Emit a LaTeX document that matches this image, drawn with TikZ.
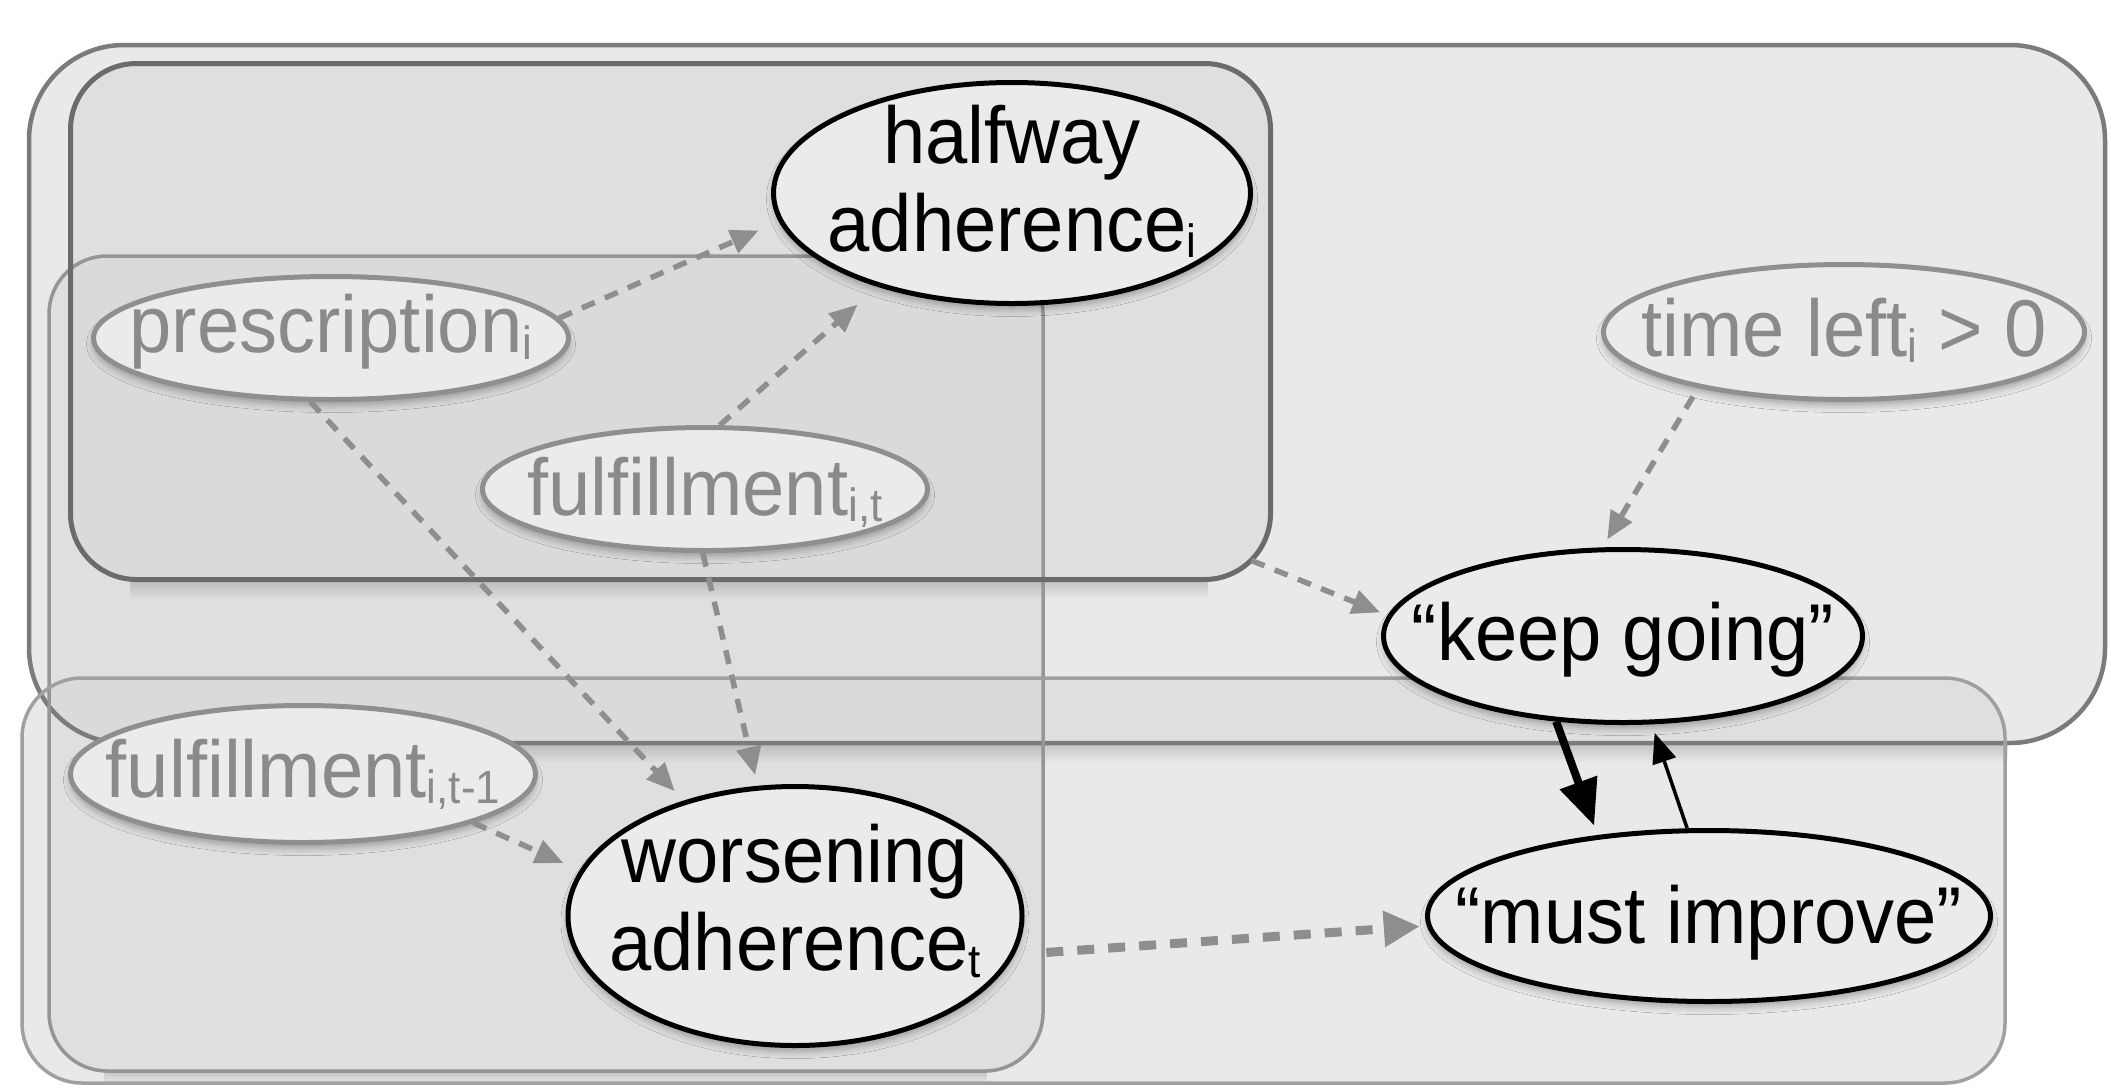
\documentclass[tikz,border=0pt]{standalone}
\usepackage{fontspec}
\setmainfont{Liberation Sans}
\usetikzlibrary{shapes.geometric,arrows.meta,shadows.blur,fadings}

\definecolor{platefill}{HTML}{D7D7D7}
\definecolor{nodefill}{HTML}{EBEBEB}
\definecolor{dimtext}{HTML}{8A8A8A}
\definecolor{dimline}{HTML}{8F8F8F}
\definecolor{arrowgray}{HTML}{8E8E8E}
\definecolor{lineA}{HTML}{7B7B7B}
\definecolor{lineB}{HTML}{6B6B6B}
\definecolor{lineC}{HTML}{959595}
\definecolor{lineD}{HTML}{A0A0A0}

\tikzfading[name=shadowfade, top color=transparent!0, bottom color=transparent!100]

% small lowered index after a variable name
\newcommand\sbs[1]{\raisebox{-6pt}{\fontsize{44pt}{44pt}\selectfont #1}}
% slightly tall lettering for the variable names
\newcommand\tall[1]{\scalebox{1}[1.06]{#1}}

\begin{document}
\begin{tikzpicture}[x=1pt,y=-1pt,
  plate/.style={rectangle, inner sep=0pt, outer sep=0pt, fill=platefill, fill opacity=0.55},
  varnode/.style={ellipse, line width=5pt, fill=nodefill, inner sep=0pt,
    blur shadow={shadow xshift=0pt, shadow yshift=-6pt, shadow blur radius=7pt, shadow opacity=30}},
  mainvar/.style={varnode, draw=black},
  sidevar/.style={varnode, draw=dimline},
  nodetext/.style={font=\fontsize{76pt}{88pt}\selectfont, align=center, inner sep=0pt},
  maintext/.style={nodetext, text=black},
  sidetext/.style={nodetext, text=dimtext},
  dep/.style={draw=arrowgray, line width=5.5pt, dash pattern=on 14pt off 11pt,
    -{Triangle[length=28pt,width=24pt]}},
  depthick/.style={draw=arrowgray, line width=9pt, dash pattern=on 17pt off 14pt,
    -{Triangle[length=36pt,width=34pt]}},
  strongarrow/.style={draw=black, line width=8pt, -{Triangle[length=46pt,width=38pt]}},
  weakarrow/.style={draw=black, line width=3.5pt, -{Triangle[length=30pt,width=24pt]}},
  platedge/.style={fill=black, opacity=0.16, path fading=shadowfade},
]
\fill[white] (0,0) rectangle (2111,1088);
\useasboundingbox (0,0) rectangle (2111,1088);

% translucent plates
\node[plate, rounded corners=95pt, minimum width=2076pt, minimum height=698pt] (A) at (1067,394) {};
\node[plate, rounded corners=66pt, minimum width=1200pt, minimum height=516pt] (B) at (670.5,321.5) {};
\node[plate, rounded corners=58pt, minimum width=994pt, minimum height=815pt] (C) at (546,663.5) {};
\node[plate, rounded corners=60pt, minimum width=1983pt, minimum height=405pt] (D) at (1013.5,880.5) {};

% soft shadows under the plate bottoms
\fill[platedge] ([xshift=90pt]A.south west) rectangle ([xshift=-90pt,yshift=-20pt]A.south east);
\fill[platedge] ([xshift=60pt]B.south west) rectangle ([xshift=-60pt,yshift=-20pt]B.south east);
\fill[platedge] ([xshift=55pt]C.south west) rectangle ([xshift=-55pt,yshift=-12pt]C.south east);

% plate outlines
\draw[lineA, line width=4.5pt, rounded corners=95pt] (A.north west) rectangle (A.south east);
\draw[lineC, line width=3.5pt, rounded corners=58pt] (C.north west) rectangle (C.south east);
\draw[lineD, line width=3.5pt, rounded corners=60pt] (D.north west) rectangle (D.south east);
\draw[lineB, line width=5pt, rounded corners=66pt] (B.north west) rectangle (B.south east);

% variables
\node[mainvar, minimum width=477pt, minimum height=221pt,
  label={[name=halftext, maintext, yshift=12pt]center:{\tall{halfway}\\\tall{adherence\sbs{i}}}}] (half) at (1012,193) {};
\node[sidevar, minimum width=475pt, minimum height=123pt,
  label={[name=pretext, sidetext, yshift=6pt]center:{\tall{prescription\sbs{i}}}}] (pre) at (331,338) {};
\node[sidevar, minimum width=445pt, minimum height=123pt,
  label={[name=fittext, sidetext, yshift=-3pt]center:{\tall{fulfillment\sbs{i,t}}}}] (fit) at (705,489) {};
\node[sidevar, minimum width=481pt, minimum height=135pt,
  label={[name=timetext, sidetext, yshift=2pt]center:{\tall{time left\sbs{i} > 0}}}] (time) at (1844,332) {};
\node[mainvar, minimum width=479pt, minimum height=173pt,
  label={[name=keeptext, maintext, yshift=-4pt]center:{\tall{“keep going”}}}] (keep) at (1623,636) {};
\node[sidevar, minimum width=465pt, minimum height=137pt,
  label={[name=ft1text, sidetext]center:{\tall{fulfillment\sbs{i,t-1}}}}] (ft1) at (303,774) {};
\node[mainvar, minimum width=454pt, minimum height=259pt,
  label={[name=worstext, maintext, yshift=15pt]center:{\tall{worsening}\\\tall{adherence\sbs{t}}}}] (wors) at (795,916) {};
\node[mainvar, minimum width=563pt, minimum height=171pt,
  label={[name=musttext, maintext, yshift=-7pt]center:{\tall{“must improve”}}}] (must) at (1709,916) {};

\coordinate (bcorner) at ([xshift=-19pt,yshift=19pt]B.south east);

% dependencies
\draw[dep, shorten >=22pt] (pre.5) -- (half.187);
\draw[dep, shorten >=27pt] (fit.77) -- (half.215);
\draw[dep, shorten >=13pt] (pre.252) -- (wors.134);
\draw[dep, shorten >=11pt] (fit.268) -- (wors.106);
\draw[dep, shorten >=18pt] (ft1.344) -- (wors.168);
\draw[dep, shorten >=8pt] (bcorner) -- (keep.175);
\draw[dep, shorten <=10pt, shorten >=9pt] (time.201) -- (keep.103);
\draw[depthick, shorten <=32pt, shorten >=7pt] (wors.350) -- (must.182);
\draw[strongarrow, shorten >=10pt] (keep.232) -- (must.144);
\draw[weakarrow, shorten >=9pt] (must.104) -- (keep.288);
\end{tikzpicture}
\end{document}
